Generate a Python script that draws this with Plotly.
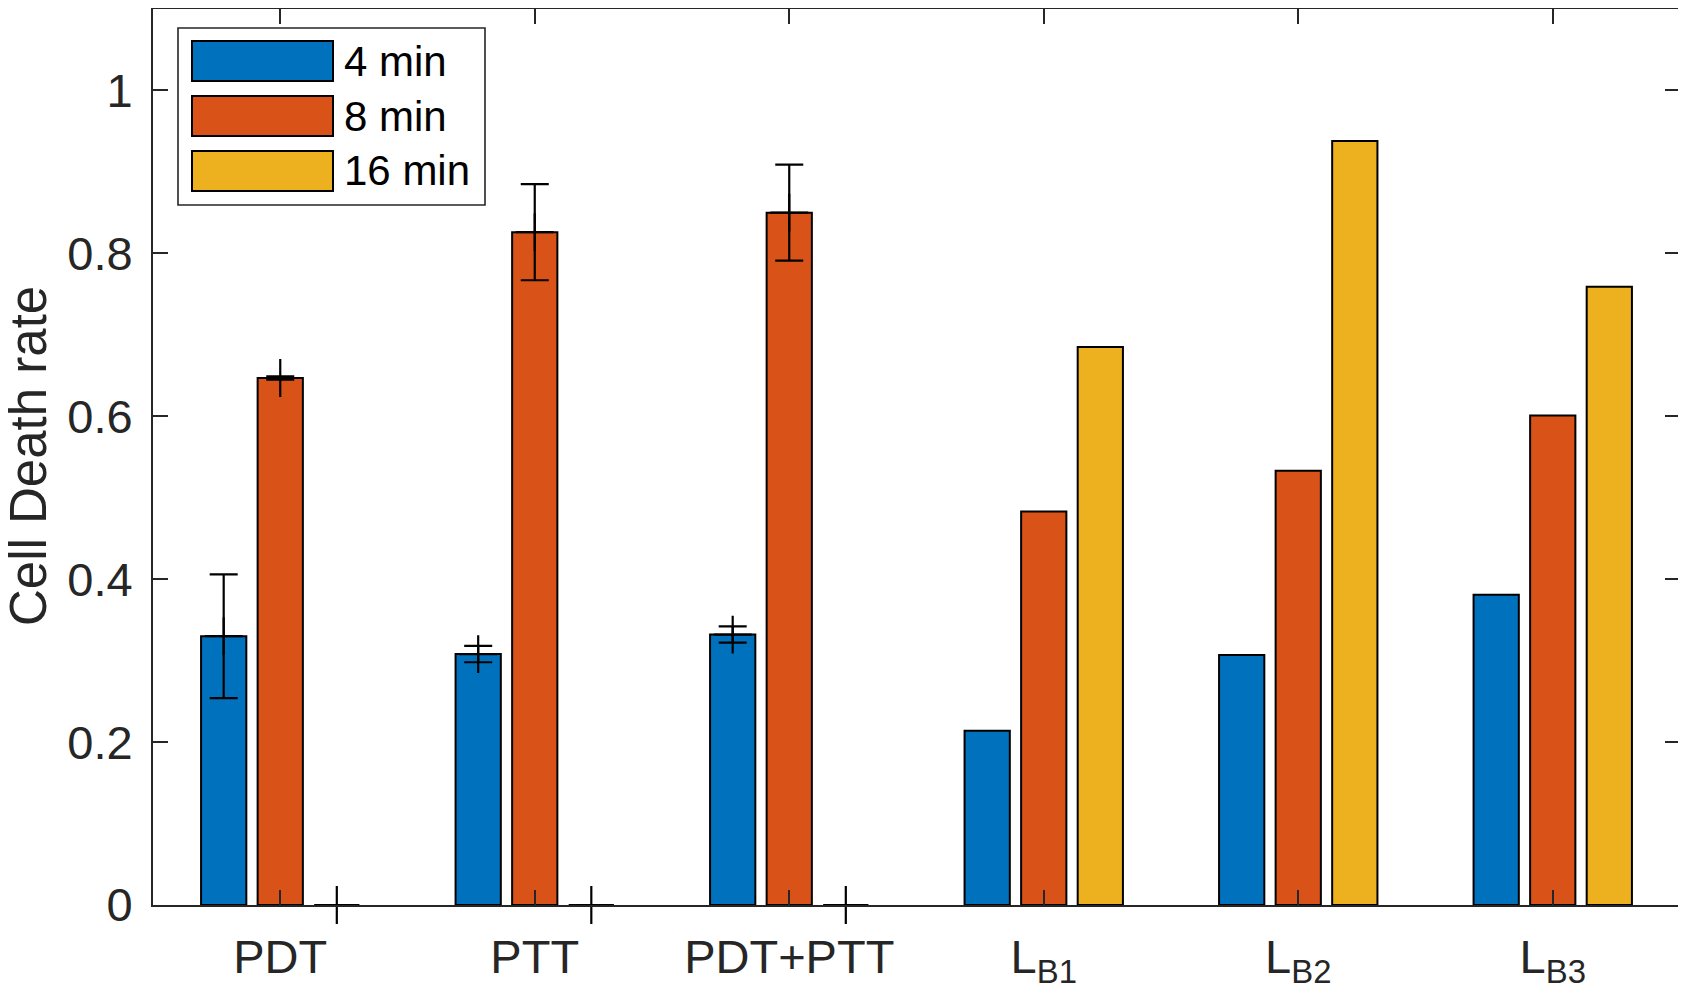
import plotly.graph_objects as go

# ---- data ----
groups = ["PDT", "PTT", "PDT+PTT", "L<sub>B1</sub>", "L<sub>B2</sub>", "L<sub>B3</sub>"]
series_names = ["4 min", "8 min", "16 min"]
colors = ["#0072BD", "#D95319", "#EDB120"]

rate_4min = [0.330, 0.308, 0.332, 0.214, 0.307, 0.381]
rate_8min = [0.647, 0.826, 0.850, 0.483, 0.533, 0.601]
rate_16min = [0.0, 0.0, 0.0, 0.685, 0.938, 0.759]

# error bars only exist for the first three groups
err_4min = [0.076, 0.010, 0.010]
err_8min = [0.002, 0.059, 0.059]
err_16min = [0.0, 0.0, 0.0]

values = [rate_4min, rate_8min, rate_16min]
errors = [err_4min, err_8min, err_16min]

# ---- layout constants ----
# the page body has an 8px margin, so the figure is a bit smaller than the window
OFF = 8
W, H = 1674, 981
L, R, T, B = 145, 1672, 1, 897
AX = "#262626"
FONT = "Arial, Liberation Sans, sans-serif"
bargap = 1 / 3
nser = len(series_names)

def px_x(p):
    # page pixel -> paper fraction
    return (p - OFF - L) / (R - L)

def px_y(p):
    return (B - (p - OFF)) / (B - T)

x = list(range(1, len(groups) + 1))

fig = go.Figure()

for k in range(nser):
    fig.add_trace(go.Bar(
        x=x, y=values[k], name=series_names[k], showlegend=False,
        marker=dict(color=colors[k], line=dict(color="black", width=2)),
    ))

# error bars with '+' markers, placed at the bar centres of each group
for k in range(nser):
    off = (k - (nser - 1) / 2) * (1 - bargap) / nser
    n = len(errors[k])
    fig.add_trace(go.Scatter(
        x=[xi + off for xi in x[:n]], y=values[k][:n], mode="markers",
        showlegend=False, hoverinfo="skip", cliponaxis=False,
        marker=dict(symbol="cross-thin", size=27, color="black",
                    line=dict(color="black", width=2.2)),
        error_y=dict(type="data", array=errors[k], visible=True,
                     color="black", thickness=2.2, width=14),
    ))

# ---- hand-made legend (MATLAB style, wide swatches) ----
shapes = [dict(type="rect", xref="paper", yref="paper",
               x0=px_x(178), x1=px_x(485), y0=px_y(205), y1=px_y(28),
               line=dict(color=AX, width=1.6), fillcolor="white", layer="above")]
annotations = []
row_top = [41, 96, 151]
for k in range(nser):
    y0, y1 = row_top[k], row_top[k] + 40
    shapes.append(dict(type="rect", xref="paper", yref="paper",
                       x0=px_x(192), x1=px_x(333), y0=px_y(y1), y1=px_y(y0),
                       line=dict(color="black", width=2), fillcolor=colors[k],
                       layer="above"))
    annotations.append(dict(xref="paper", yref="paper", x=px_x(342),
                            y=px_y((y0 + y1) / 2), text=series_names[k],
                            showarrow=False, xanchor="left", yanchor="middle",
                            font=dict(family=FONT, size=42, color="black")))

# y axis title as an annotation so it can sit right at the left edge
annotations.append(dict(xref="paper", yref="paper", x=px_x(28), y=px_y(456),
                        text="Cell Death rate", textangle=-90, showarrow=False,
                        xanchor="center", yanchor="middle",
                        font=dict(family=FONT, size=51, color=AX)))

fig.update_layout(
    width=W, height=H,
    margin=dict(l=L, r=W - R, t=T, b=H - B, autoexpand=False),
    paper_bgcolor="white", plot_bgcolor="white",
    barmode="group", bargap=bargap, bargroupgap=0.2,
    font=dict(family=FONT, color=AX),
    shapes=shapes, annotations=annotations,
    xaxis=dict(range=[0.5, 6.5], tickvals=x, ticktext=groups,
               ticks="inside", ticklen=15, tickwidth=2, tickcolor=AX,
               showline=True, linecolor=AX, linewidth=2, mirror="ticks",
               showgrid=False, zeroline=False, ticklabelstandoff=10,
               tickfont=dict(family=FONT, size=47, color=AX)),
    yaxis=dict(range=[0, 1.1], tickvals=[0, 0.2, 0.4, 0.6, 0.8, 1],
               ticktext=["0", "0.2", "0.4", "0.6", "0.8", "1"],
               ticks="inside", ticklen=15, tickwidth=2, tickcolor=AX,
               showline=True, linecolor=AX, linewidth=2, mirror="ticks",
               showgrid=False, zeroline=False, ticklabelstandoff=9,
               tickfont=dict(family=FONT, size=47, color=AX)),
)

fig.write_html("out.html")
